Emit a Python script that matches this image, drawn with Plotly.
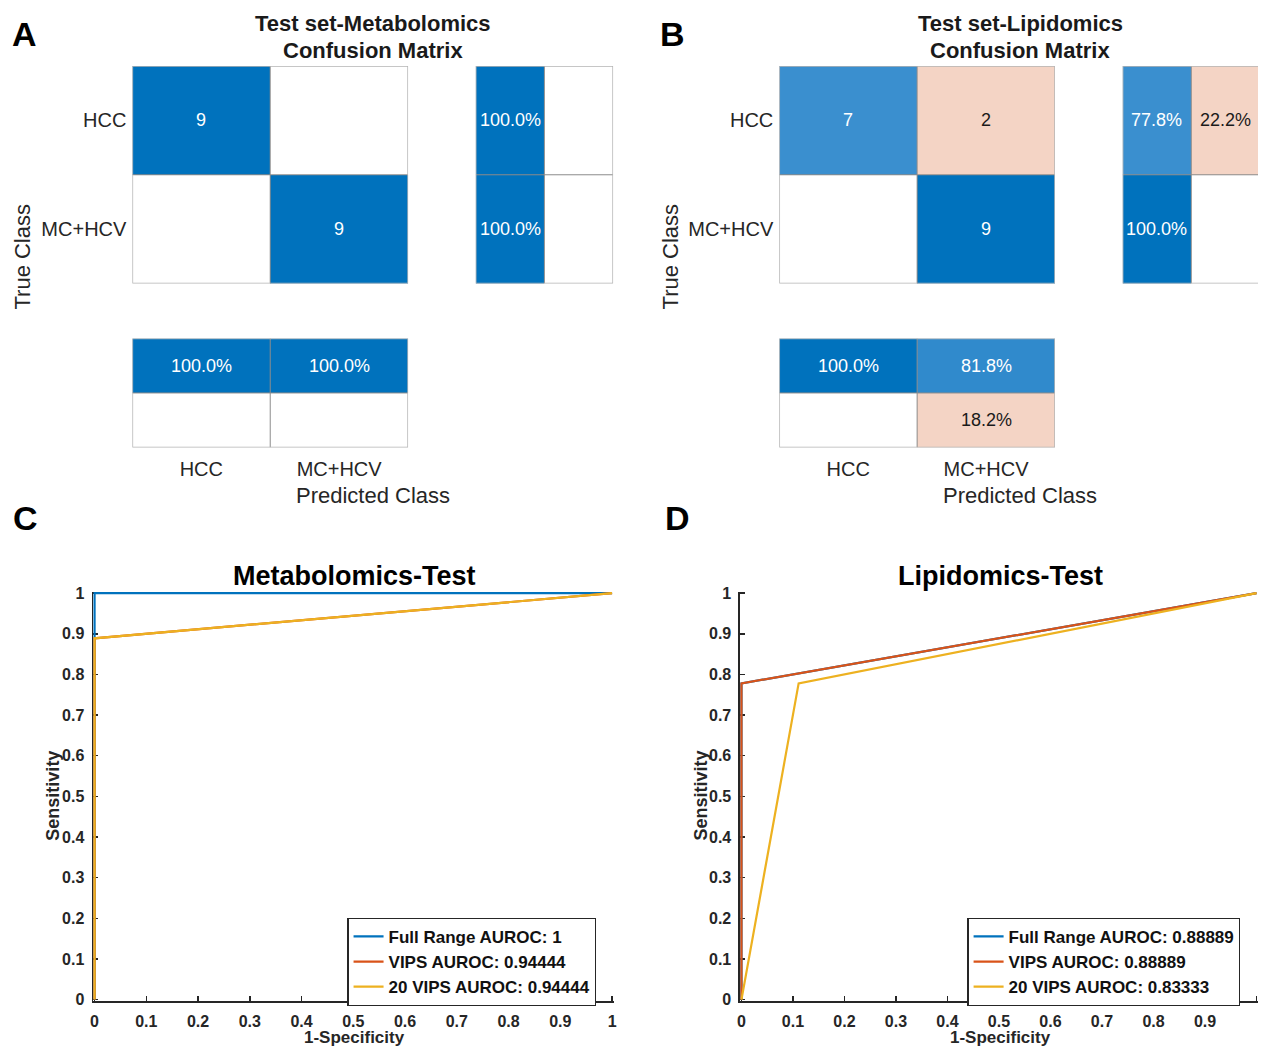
import plotly.graph_objects as go

# ---------------- data ----------------
classes = ["HCC", "MC+HCV"]

# Panel A: Test set - Metabolomics confusion matrix
A_counts = [[9, 0], [0, 9]]
A_row_pct = [[100.0, 0.0], [100.0, 0.0]]      # right summary: correct / incorrect
A_col_pct = [[100.0, 100.0], [0.0, 0.0]]      # bottom summary: correct / incorrect

# Panel B: Test set - Lipidomics confusion matrix
B_counts = [[7, 2], [0, 9]]
B_row_pct = [[77.8, 22.2], [100.0, 0.0]]
B_col_pct = [[100.0, 81.8], [0.0, 18.2]]

# Panel C: Metabolomics ROC
C_full_fpr = [0, 0, 1]
C_full_tpr = [0, 1, 1]
C_vips_fpr = [0, 0, 1]
C_vips_tpr = [0, 0.889, 1]
C_20_fpr = [0, 0, 1]
C_20_tpr = [0, 0.889, 1]
C_names = ["Full Range AUROC: 1", "VIPS AUROC: 0.94444", "20 VIPS AUROC: 0.94444"]

# Panel D: Lipidomics ROC
D_full_fpr = [0, 0, 1]
D_full_tpr = [0, 0.778, 1]
D_vips_fpr = [0, 0, 1]
D_vips_tpr = [0, 0.778, 1]
D_20_fpr = [0, 0.111, 1]
D_20_tpr = [0, 0.778, 1]
D_names = ["Full Range AUROC: 0.88889", "VIPS AUROC: 0.88889", "20 VIPS AUROC: 0.83333"]

roc_ticks = [0, 0.1, 0.2, 0.3, 0.4, 0.5, 0.6, 0.7, 0.8, 0.9, 1]
roc_ticktext = ["0", "0.1", "0.2", "0.3", "0.4", "0.5", "0.6", "0.7", "0.8", "0.9", "1"]

# ---------------- styles ----------------
W, H = 1261, 1046
FONT = "Liberation Sans, Arial, Helvetica, sans-serif"
DARK = "#262626"
ROC_COLORS = ["#0072BD", "#D95319", "#EDB120"]
CM_SCALE = [[0.0, "#F4D4C5"], [0.495, "#F4D4C5"], [0.5, "#FFFFFF"],
            [0.51, "#D6E8F5"], [0.889, "#3A8FCF"], [1.0, "#0072BD"]]

# vertical calibration of the layout grid (page px -> layout px)
VS, VO = 0.988, 7.0


def X(px):
    return px / W


def Y(py):
    return 1 - ((py - VO) / VS) / H


fig = go.Figure()
layout = dict(width=W, height=H, margin=dict(l=0, r=0, t=0, b=0),
              paper_bgcolor="white", plot_bgcolor="white",
              font=dict(family=FONT, color=DARK), showlegend=True)
annotations = []
shapes = []


def note(px, py, text, size, color=DARK, angle=0):
    annotations.append(dict(x=X(px), y=Y(py), xref="paper", yref="paper", text=text,
                            showarrow=False, xanchor="center", yanchor="middle",
                            textangle=angle, font=dict(size=size, family=FONT, color=color)))


def blank_axis(domain, rng, **kw):
    d = dict(domain=domain, range=rng, showgrid=False, zeroline=False,
             showline=False, ticks="", showticklabels=False, fixedrange=True)
    d.update(kw)
    return d


def cm_block(n, values, zvals, fmt, x_dom_px, y_dom_px, xr, yr, xlabels=None, ylabels=None):
    xa = "xaxis" if n == 1 else f"xaxis{n}"
    ya = "yaxis" if n == 1 else f"yaxis{n}"
    xref = "x" if n == 1 else f"x{n}"
    yref = "y" if n == 1 else f"y{n}"
    fig.add_trace(go.Heatmap(z=zvals, x=[0, 1], y=[0, 1], xaxis=xref, yaxis=yref,
                             colorscale=CM_SCALE, zmin=-1, zmax=1, showscale=False,
                             hoverinfo="skip", showlegend=False))
    xkw = {}
    ykw = {}
    if xlabels:
        xkw = dict(showticklabels=True, tickvals=[0, 1], ticktext=xlabels,
                   tickfont=dict(size=20, color=DARK, family=FONT), ticklabelstandoff=8)
    if ylabels:
        ykw = dict(showticklabels=True, tickvals=[0, 1], ticktext=ylabels,
                   tickfont=dict(size=20, color=DARK, family=FONT), ticklabelstandoff=5)
    layout[xa] = blank_axis([X(x_dom_px[0]), min(1.0, X(x_dom_px[1]))], xr,
                            anchor=yref, **xkw)
    layout[ya] = blank_axis([Y(y_dom_px[1]), Y(y_dom_px[0])], yr, anchor=xref, **ykw)
    # cell text
    for i in range(2):
        for j in range(2):
            v = values[i][j]
            if v == 0:
                continue
            z = zvals[i][j]
            annotations.append(dict(x=j, y=i, xref=xref, yref=yref, text=fmt(v),
                                    showarrow=False, xanchor="center", yanchor="middle",
                                    font=dict(size=18, family=FONT,
                                              color="white" if z > 0.5 else "#1a1a1a")))
    # grid lines
    shapes.append(dict(type="line", xref=xref, yref=yref, x0=0.5, x1=0.5, y0=-0.5, y1=1.5,
                       line=dict(color="#8c8c8c", width=1)))
    shapes.append(dict(type="line", xref=xref, yref=yref, x0=-0.5, x1=1.5, y0=0.5, y1=0.5,
                       line=dict(color="#8c8c8c", width=1)))
    shapes.append(dict(type="rect", xref=xref, yref=yref, x0=-0.5, x1=1.5, y0=-0.5, y1=1.5,
                       line=dict(color="#b4b4b4", width=1.5)))


def count_z(c):
    top = max(c[0][0], c[1][1], 1)
    return [[c[i][j] / top if i == j else -c[i][j] / max(sum(c[i]), 1) for j in range(2)]
            for i in range(2)]


def row_z(p):
    return [[p[i][0] / 100, -p[i][1] / 100] for i in range(2)]


def col_z(p):
    return [[p[0][j] / 100 for j in range(2)], [-p[1][j] / 100 for j in range(2)]]


cnt_fmt = lambda v: str(v)
pct_fmt = lambda v: f"{v:.1f}%"

# ---- Panel A ----
cm_block(1, A_counts, count_z(A_counts), cnt_fmt, (130, 407), (66, 284), [-0.5, 1.5], [1.5, -0.5],
         ylabels=classes)
cm_block(2, A_row_pct, row_z(A_row_pct), pct_fmt, (475, 613), (66, 284), [-0.5, 1.5], [1.5, -0.5])
cm_block(3, A_col_pct, col_z(A_col_pct), pct_fmt, (130, 407), (339, 448), [-0.5, 1.5], [1.5, -0.5],
         xlabels=classes)

# ---- Panel B ----
cm_block(4, B_counts, count_z(B_counts), cnt_fmt, (780, 1057), (66, 284), [-0.5, 1.5], [1.5, -0.5],
         ylabels=classes)
cm_block(5, B_row_pct, row_z(B_row_pct), pct_fmt, (1125, 1261), (66, 284),
         [-0.5, -0.5 + (1261 - 1125) / 69.0], [1.5, -0.5])
cm_block(6, B_col_pct, col_z(B_col_pct), pct_fmt, (780, 1057), (339, 448), [-0.5, 1.5], [1.5, -0.5],
         xlabels=classes)

# titles / labels of confusion panels
for cx, name, tc_x in [(372, "Metabolomics", 20), (1022, "Lipidomics", 671)]:
    note(cx, 24, f"<b>Test set-{name}</b>", 22, "#1a1a1a")
    note(cx, 51, "<b>Confusion Matrix</b>", 22, "#1a1a1a")
    note(cx, 496, "Predicted Class", 22)
    note(tc_x, 257, "True Class", 22, angle=-90)

# panel letters
for t, px, py in [("A", 22, 34), ("B", 673, 34), ("C", 23, 519), ("D", 678, 519)]:
    note(px, py, f"<b>{t}</b>", 34, "black")

# ---------------- ROC panels ----------------
PADX = 1.5
PADY = 1.5


def roc_axes(n, x0px, x1px):
    xa, ya = f"xaxis{n}", f"yaxis{n}"
    xref, yref = f"x{n}", f"y{n}"
    unitx = x1px - x0px
    px_ = PADX / unitx
    py_ = PADY / 407.0
    xd1 = min(1.0, X(x1px + PADX))
    common = dict(showgrid=False, zeroline=False, showline=True, linecolor=DARK, linewidth=1.5,
                  ticks="inside", ticklen=5, tickwidth=1.5, tickcolor=DARK,
                  tickvals=roc_ticks, ticktext=roc_ticktext,
                  tickfont=dict(size=16, family=FONT, color=DARK, weight="bold"),
                  mirror=False, layer="below traces", fixedrange=True)
    layout[xa] = dict(domain=[X(x0px - PADX), xd1], range=[-px_, 1 + px_], anchor=yref,
                      ticklabelstandoff=5, **common)
    layout[ya] = dict(domain=[Y(1001 + PADY), Y(594 - PADY)], range=[-py_, 1 + py_], anchor=xref,
                      ticklabelstandoff=4, **common)
    return xref, yref


cx_ref, cy_ref = roc_axes(7, 92, 612)
dx_ref, dy_ref = roc_axes(8, 742, 1262)

C_curves = [(C_full_fpr, C_full_tpr), (C_vips_fpr, C_vips_tpr), (C_20_fpr, C_20_tpr)]
D_curves = [(D_full_fpr, D_full_tpr), (D_vips_fpr, D_vips_tpr), (D_20_fpr, D_20_tpr)]

for (fx, ty), nm, col in zip(C_curves, C_names, ROC_COLORS):
    fig.add_trace(go.Scatter(x=fx, y=ty, mode="lines", name=nm, xaxis=cx_ref, yaxis=cy_ref,
                             line=dict(color=col, width=2.2), legend="legend", hoverinfo="skip"))
for (fx, ty), nm, col in zip(D_curves, D_names, ROC_COLORS):
    fig.add_trace(go.Scatter(x=fx, y=ty, mode="lines", name=nm, xaxis=dx_ref, yaxis=dy_ref,
                             line=dict(color=col, width=2.2), legend="legend2", hoverinfo="skip"))

legend_style = dict(xanchor="left", yanchor="top", bgcolor="white", bordercolor=DARK,
                    borderwidth=1.2, tracegroupgap=0, itemwidth=30,
                    font=dict(size=17, family=FONT, color="#111111", weight="bold"))
layout["legend"] = dict(x=X(346), y=Y(919), **legend_style)
layout["legend2"] = dict(x=X(969), y=Y(919), **legend_style)

for title, cx, axx in [("Metabolomics-Test", 353, 50), ("Lipidomics-Test", 1002, 701)]:
    note(cx, 577, f"<b>{title}</b>", 27, "black")
    note(cx, 1039, "<b>1-Specificity</b>", 17)
    note(axx, 797, "<b>Sensitivity</b>", 18, angle=-90)

layout["annotations"] = annotations
layout["shapes"] = shapes
fig.update_layout(**layout)

fig.write_html(
    "out.html", config={"displayModeBar": False, "staticPlot": True},
    post_script=("document.documentElement.style.margin='0px';"
                 "document.documentElement.style.overflow='hidden';"
                 "document.body.style.margin='0px';"
                 "document.body.style.overflow='hidden';"
                 "var d=document.getElementById('{plot_id}');"
                 "d.style.position='fixed';d.style.top='0px';d.style.left='0px';"))
